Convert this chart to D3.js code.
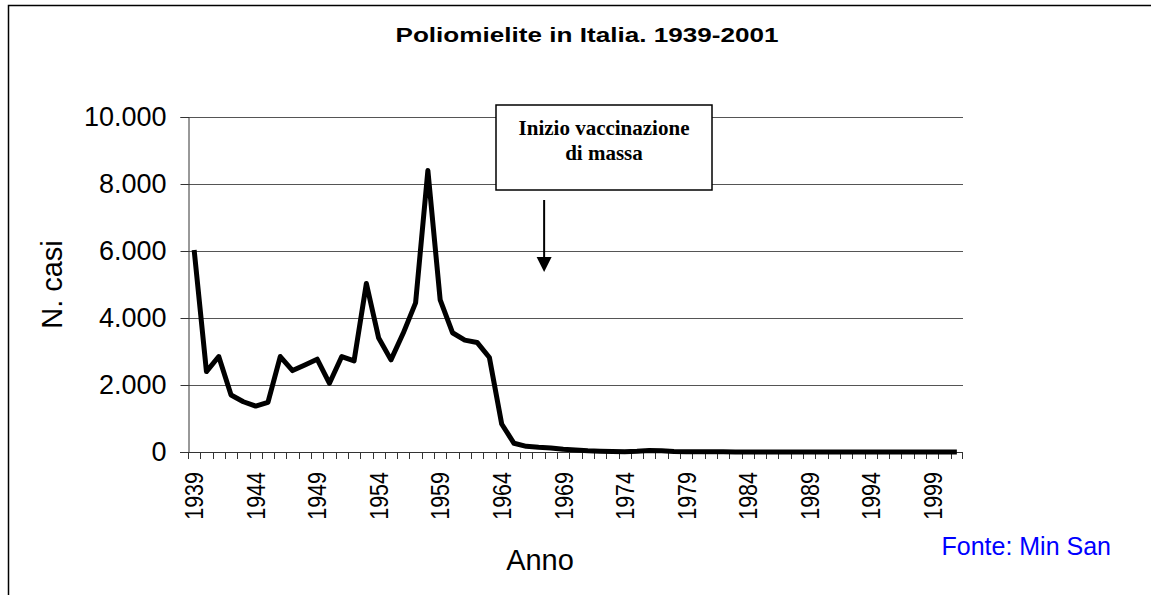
<!DOCTYPE html>
<html>
<head>
<meta charset="utf-8">
<script src="https://cdn.jsdelivr.net/npm/d3@7"></script>
<style>
  body { margin: 0; background: #fff; }
  svg { display: block; font-family: Arial, "Liberation Sans", sans-serif; }
</style>
</head>
<body>
<svg width="1151" height="595"></svg>
<script>
var years = d3.range(1939, 2002);
// casi di poliomielite per anno
var cases = [6030, 2400, 2850, 1700, 1500, 1370, 1480, 2850, 2430, 2600,
             2770, 2050, 2850, 2720, 5030, 3400, 2750, 3550, 4450, 8400,
             4540, 3560, 3340, 3270, 2820, 835, 260, 170, 140, 120,
             80, 60, 35, 25, 15, 10, 20, 45, 40, 15,
             10, 6, 5, 4, 3, 3, 2, 2, 2, 1,
             1, 1, 1, 1, 0, 0, 0, 0, 0, 0,
             0, 0, 0];
var yTicks = [0, 2000, 4000, 6000, 8000, 10000];
var labelYears = d3.range(1939, 2000, 5);

var svg = d3.select("svg"),
    pLeft = 188, pRight = 963, pTop = 117, pBottom = 452;

var itFormat = d3.formatLocale({decimal: ",", thousands: ".", grouping: [3], currency: ["", ""]}).format(",");

var x = d3.scaleBand().domain(years).range([pLeft, pRight]).padding(0);
var y = d3.scaleLinear().domain([0, 10000]).range([pBottom, pTop]);
var cx = function(yr) { return x(yr) + x.bandwidth() / 2; };

// cornice
svg.append("rect")
    .attr("x", 8.5).attr("y", 5.5)
    .attr("width", 1160).attr("height", 600)
    .attr("fill", "none").attr("stroke", "#000").attr("stroke-width", 1.5);

// griglia
svg.append("g").selectAll("line")
    .data(yTicks.slice(1))
  .enter().append("line")
    .attr("x1", pLeft).attr("x2", pRight)
    .attr("y1", function(d) { return Math.round(y(d)) + 0.5; })
    .attr("y2", function(d) { return Math.round(y(d)) + 0.5; })
    .attr("stroke", "#555").attr("stroke-width", 1.2);

// asse y
var yAxis = svg.append("g")
    .attr("transform", "translate(" + (pLeft + 0.5) + ",0)")
    .call(d3.axisLeft(y).tickValues(yTicks).tickSize(8).tickFormat(itFormat));
yAxis.selectAll("path, line").attr("stroke", "#333");
yAxis.selectAll("text")
    .attr("x", -22).attr("font-size", 27)
    .attr("font-family", "Arial, 'Liberation Sans', sans-serif").attr("fill", "#000");

// asse x
svg.append("line")
    .attr("x1", pLeft - 8).attr("x2", pRight)
    .attr("y1", pBottom + 0.5).attr("y2", pBottom + 0.5)
    .attr("stroke", "#333");
svg.append("g").selectAll("line")
    .data(years.concat([2002]))
  .enter().append("line")
    .attr("x1", function(d) { return d == 2002 ? pRight - 0.5 : Math.round(x(d)) + 0.5; })
    .attr("x2", function(d) { return d == 2002 ? pRight - 0.5 : Math.round(x(d)) + 0.5; })
    .attr("y1", pBottom).attr("y2", pBottom + 7)
    .attr("stroke", "#333");

svg.append("g").selectAll("text")
    .data(labelYears)
  .enter().append("text")
    .attr("transform", function(d) { return "translate(" + cx(d) + "," + 472 + ") rotate(-90) scale(1,1.2)"; })
    .attr("text-anchor", "end")
    .attr("dy", "0.36em")
    .attr("font-size", 21.5)
    .text(function(d) { return d; });

// serie
var line = d3.line()
    .x(function(d, i) { return cx(years[i]); })
    .y(function(d) { return y(d); });

svg.append("path")
    .datum(cases)
    .attr("d", line)
    .attr("fill", "none")
    .attr("stroke", "#000")
    .attr("stroke-width", 5)
    .attr("stroke-linejoin", "round");

// titoli
svg.append("text")
    .attr("x", 587).attr("y", 42)
    .attr("text-anchor", "middle")
    .attr("font-weight", "bold")
    .attr("font-size", 20)
    .attr("textLength", 383).attr("lengthAdjust", "spacingAndGlyphs")
    .text("Poliomielite in Italia. 1939-2001");

svg.append("text")
    .attr("transform", "translate(62," + ((pTop + pBottom) / 2) + ") rotate(-90)")
    .attr("text-anchor", "middle")
    .attr("font-size", 29)
    .text("N. casi");

svg.append("text")
    .attr("x", 540).attr("y", 570)
    .attr("text-anchor", "middle")
    .attr("font-size", 29)
    .text("Anno");

svg.append("text")
    .attr("x", 1111).attr("y", 555)
    .attr("text-anchor", "end")
    .attr("font-size", 25)
    .attr("fill", "#0000ff")
    .text("Fonte: Min San");

// annotazione
var ax = cx(1967) + x.bandwidth() * 0.45;
var note = svg.append("g");
note.append("rect")
    .attr("x", 496).attr("y", 105)
    .attr("width", 216).attr("height", 85)
    .attr("fill", "#fff").attr("stroke", "#000").attr("stroke-width", 1.5);
note.append("text")
    .attr("x", 604).attr("y", 135)
    .attr("text-anchor", "middle")
    .attr("font-family", "'Liberation Serif', 'Times New Roman', serif")
    .attr("font-weight", "bold").attr("font-size", 21)
    .text("Inizio vaccinazione");
note.append("text")
    .attr("x", 604).attr("y", 160)
    .attr("text-anchor", "middle")
    .attr("font-family", "'Liberation Serif', 'Times New Roman', serif")
    .attr("font-weight", "bold").attr("font-size", 21)
    .text("di massa");
note.append("line")
    .attr("x1", ax).attr("x2", ax)
    .attr("y1", 200).attr("y2", 258)
    .attr("stroke", "#000").attr("stroke-width", 2);
note.append("path")
    .attr("d", "M" + (ax - 7.5) + ",257L" + (ax + 7.5) + ",257L" + ax + ",272Z")
    .attr("fill", "#000");
</script>
</body>
</html>
